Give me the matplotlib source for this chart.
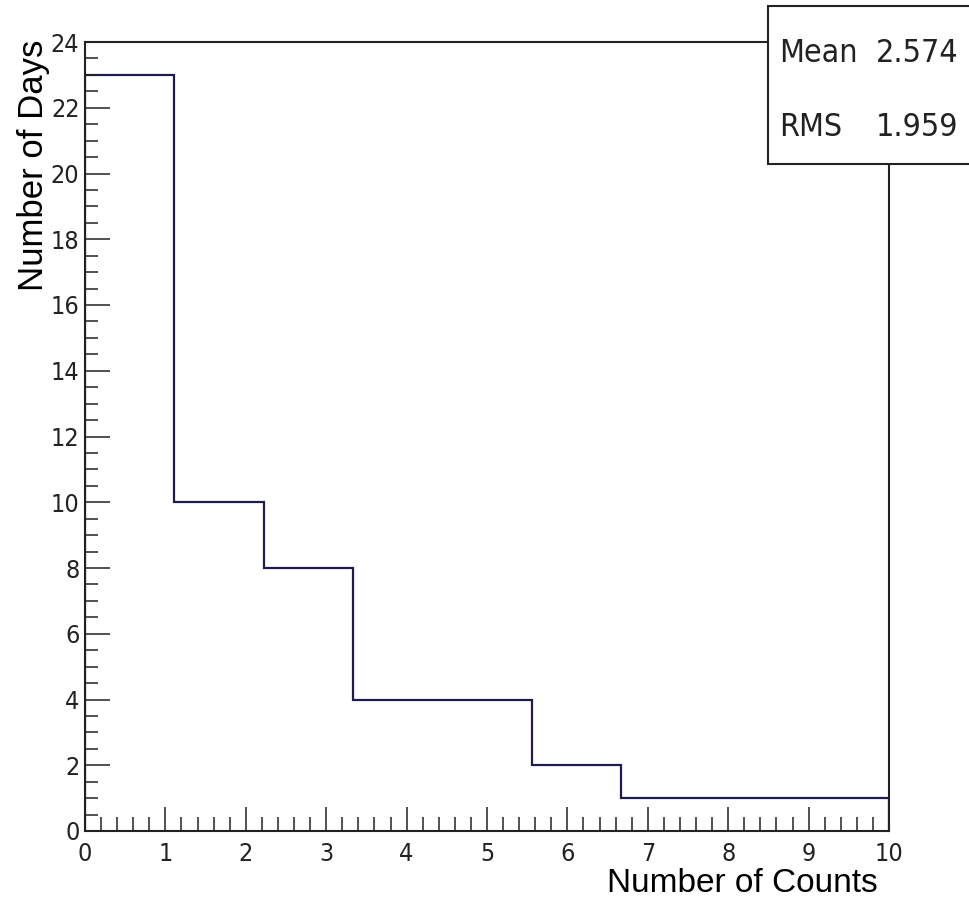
import numpy as np
import matplotlib
matplotlib.use("Agg")
import matplotlib.pyplot as plt
from matplotlib.patches import Rectangle
from matplotlib.ticker import MultipleLocator
from matplotlib import font_manager

# Data
bin_edges = np.linspace(0, 10, 10)          # 9 bins of width 10/9
counts = [23, 10, 8, 4, 4, 2, 1, 1, 1]
x_label = "Number of Counts"
y_label = "Number of Days"
stats_names = ["Mean", "RMS"]
stats_values = ["2.574", "1.959"]

narrow_kw = dict(family="DejaVu Sans", stretch="condensed")
regular = ["Liberation Sans", "DejaVu Sans"]

W, H = 969, 899
fig = plt.figure(figsize=(W / 100, H / 100), dpi=100)
fig.patch.set_facecolor("white")
ax = fig.add_axes([85 / W, (H - 831) / H, (889 - 85) / W, (831 - 42) / H])

ax.stairs(counts, bin_edges, color="#1c1c50", linewidth=1.6)

ax.set_xlim(0, 10)
ax.set_ylim(0, 24)
ax.xaxis.set_major_locator(MultipleLocator(1))
ax.xaxis.set_minor_locator(MultipleLocator(0.2))
ax.yaxis.set_major_locator(MultipleLocator(2))
ax.yaxis.set_minor_locator(MultipleLocator(0.5))

for sp in ax.spines.values():
    sp.set_linewidth(1.5)
    sp.set_color("#222222")

ax.tick_params(axis="x", which="major", direction="in", length=17, width=1.1,
               pad=8, colors="#222222")
ax.tick_params(axis="x", which="minor", direction="in", length=10, width=1.1,
               colors="#222222")
ax.tick_params(axis="y", which="major", direction="in", length=18, width=1.1,
               pad=4, colors="#222222")
ax.tick_params(axis="y", which="minor", direction="in", length=9.5, width=1.1,
               colors="#222222")
ax.tick_params(top=False, right=False, which="both")

for lab in ax.get_xticklabels() + ax.get_yticklabels():
    lab.set_fontproperties(font_manager.FontProperties(size=18, **narrow_kw))
    lab.set_color("#222222")

# Axis titles (ROOT style: right-aligned at the axis end)
fig.text(878 / W, (H - 892) / H, x_label, ha="right", va="baseline",
         fontsize=24, family=regular, color="black")
fig.text(43 / W, (H - 40) / H, y_label, ha="right", va="baseline",
         rotation=90, rotation_mode="anchor", fontsize=25, family=regular,
         color="black")

# Stats box
box = Rectangle((768 / W, (H - 164) / H), 0.4, (164 - 6) / H,
                transform=fig.transFigure, facecolor="white",
                edgecolor="#222222", linewidth=1.5, zorder=10, clip_on=False)
fig.add_artist(box)
rows_y = [53, 128]
for name, val, yy in zip(stats_names, stats_values, rows_y):
    fp = font_manager.FontProperties(size=23, **narrow_kw)
    fig.text(779 / W, (H - yy) / H, name, ha="left", va="center",
             fontproperties=fp, color="#222222", zorder=11)
    fig.text(958 / W, (H - yy) / H, val, ha="right", va="center",
             fontproperties=fp, color="#222222", zorder=11)

fig.savefig("out.png", dpi=100)
